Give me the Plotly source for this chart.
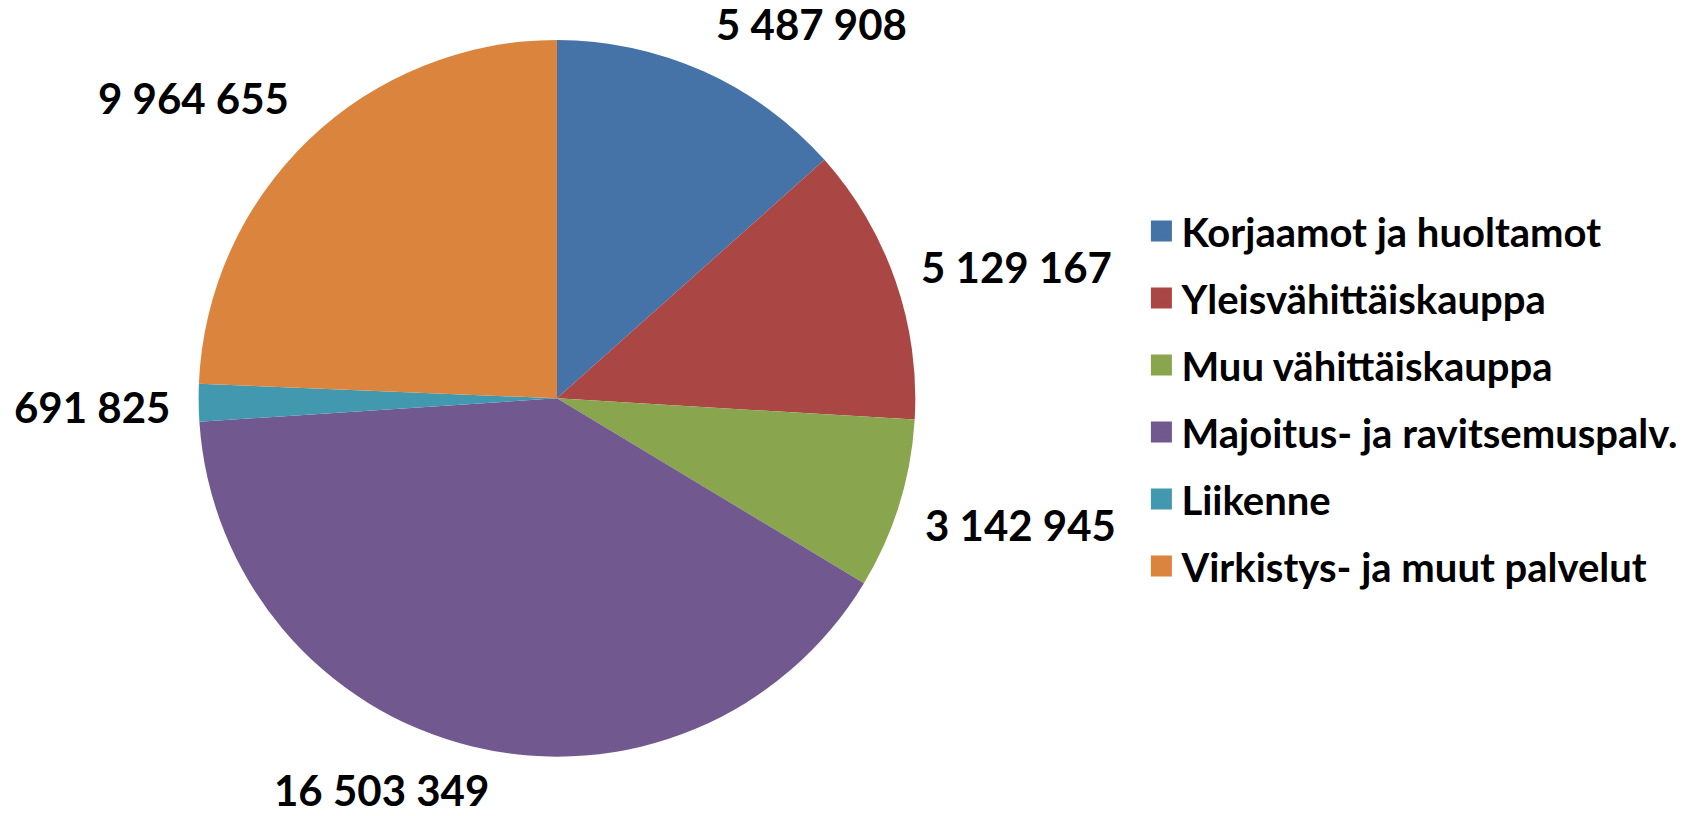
import math
import plotly.graph_objects as go

categories = ["Korjaamot ja huoltamot", "Yleisvähittäiskauppa", "Muu vähittäiskauppa",
              "Majoitus- ja ravitsemuspalv.", "Liikenne", "Virkistys- ja muut palvelut"]
values = [5487908, 5129167, 3142945, 16503349, 691825, 9964655]
colors = ["#4572A7", "#AA4643", "#89A54E", "#71588F", "#4198AF", "#DB843D"]

FONT = "Lato"
LABEL_SIZE = 42
W, H = 1696, 816
DOM_X = [0.1169, 0.5399]
DOM_Y = [0.0727, 0.951]

fig = go.Figure()
fig.add_trace(go.Pie(
    labels=categories, values=values, sort=False, direction="clockwise", rotation=0,
    marker=dict(colors=colors, line=dict(width=0)),
    textinfo="none",
    domain=dict(x=DOM_X, y=DOM_Y),
    showlegend=False, hoverinfo="label+value",
))
for name, col in zip(categories, colors):
    fig.add_trace(go.Scatter(
        x=[None], y=[None], mode="markers", name=name, legendgroup=name,
        marker=dict(symbol="square", size=16, color=col, line=dict(color=col, width=5)),
    ))

# data labels, placed just outside each slice around its mid-angle
cx = (DOM_X[0] + DOM_X[1]) / 2
cy = (DOM_Y[0] + DOM_Y[1]) / 2
radius_px = min((DOM_X[1] - DOM_X[0]) * W, (DOM_Y[1] - DOM_Y[0]) * H) / 2
dist = radius_px * 1.07
total = sum(values)
cum = 0.0
for v in values:
    mid = (cum + v / 2) / total * 2 * math.pi
    cum += v
    s, c = math.sin(mid), math.cos(mid)
    txt = f"{v:,}".replace(",", " ")
    n_dig = sum(ch.isdigit() for ch in txt)
    est_w = LABEL_SIZE * (0.58 * n_dig + 0.195 * (len(txt) - n_dig)) + 8
    g = max(-1.0, min(1.0, 3.3 * s))
    ya = "bottom" if c > 0.5 else ("top" if c < -0.5 else "middle")
    ysh = {"bottom": -3, "top": 8, "middle": -4 + 30 * c}[ya]
    fig.add_annotation(
        x=cx + dist * s / W, y=cy + dist * c / H, xref="paper", yref="paper",
        text=txt, showarrow=False,
        xanchor="center", yanchor=ya, xshift=g * est_w / 2, yshift=ysh,
        font=dict(family=FONT, size=LABEL_SIZE, color="black", weight="bold"),
    )

fig.update_layout(
    width=W, height=H, margin=dict(l=0, r=0, t=0, b=0),
    paper_bgcolor="white", plot_bgcolor="white",
    xaxis=dict(visible=False), yaxis=dict(visible=False),
    legend=dict(x=0.673, y=0.5116, xanchor="left", yanchor="middle",
                font=dict(family=FONT, size=40, color="black", weight="bold"),
                tracegroupgap=12, itemsizing="trace", bgcolor="rgba(0,0,0,0)"),
)
fig.write_html("out.html", config={"displayModeBar": False},
               post_script="document.body.style.margin='0';")
